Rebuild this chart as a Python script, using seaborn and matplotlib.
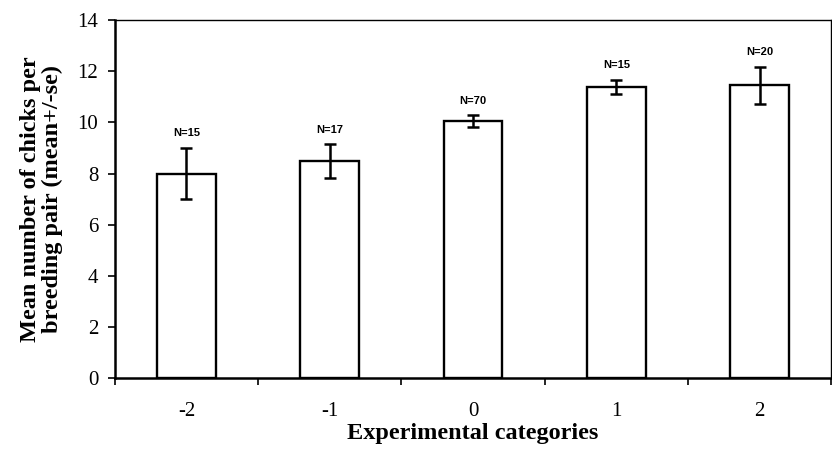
import numpy as np
import pandas as pd
import seaborn as sns
import matplotlib.pyplot as plt
from matplotlib.ticker import FixedLocator

categories = ["-2", "-1", "0", "1", "2"]
means = [8.0, 8.48, 10.05, 11.38, 11.45]
se = [1.0, 0.66, 0.23, 0.28, 0.72]
sample_sizes = [15, 17, 70, 15, 20]


def draw_chart(df: pd.DataFrame):
    """Bar chart of mean chicks per pair with +/- se error bars."""
    fig = plt.figure(figsize=(8.32, 4.49), dpi=100)
    ax = fig.add_axes([0.138, 0.158, 0.861, 0.797])

    sns.barplot(
        data=df, x="category", y="mean", order=categories,
        color="white", edgecolor="black", linewidth=1.7,
        width=0.41, errorbar=None, ax=ax
    )
    ax.errorbar(
        np.arange(len(df)), df["mean"], yerr=df["se"],
        fmt="none", ecolor="black", elinewidth=1.8,
        capsize=4.5, capthick=1.8
    )

    for i, row in df.iterrows():
        ax.annotate(
            f"N={row['n']}", (i, row["mean"] + row["se"]),
            xytext=(0, 7), textcoords="offset points",
            ha="center", va="bottom", fontsize=8, fontweight="bold",
            family="Liberation Sans"
        )

    ax.set_xlim(-0.5, len(categories) - 0.5)
    ax.set_ylim(0, 14)
    ax.set_yticks(range(0, 15, 2))
    ax.xaxis.set_minor_locator(FixedLocator(np.arange(-0.5, len(categories), 1)))
    ax.tick_params(axis="x", which="major", length=0, pad=17)
    ax.tick_params(axis="x", which="minor", length=5, width=1.2, direction="out")
    ax.tick_params(axis="y", length=5, width=1.2, direction="out", pad=7)
    for lbl in ax.get_xticklabels() + ax.get_yticklabels():
        lbl.set_family("Liberation Serif")
        lbl.set_fontsize(15)

    for side in ["left", "bottom"]:
        ax.spines[side].set_linewidth(1.8)
    for side in ["top", "right"]:
        ax.spines[side].set_linewidth(1.0)

    ax.set_xlabel("Experimental categories", family="Liberation Serif",
                  fontsize=17.5, fontweight="bold", labelpad=2)
    ax.set_ylabel("Mean number of chicks per\nbreeding pair (mean+/-se)",
                  family="Liberation Serif", fontsize=17.5,
                  fontweight="bold", labelpad=10, linespacing=1.05)

    fig.savefig("out.png", dpi=100)


def main():
    sns.set_style("ticks", rc={
        "axes.edgecolor": "black",
        "text.color": "black",
        "axes.labelcolor": "black",
        "xtick.color": "black",
        "ytick.color": "black",
    })
    df = pd.DataFrame({
        "category": categories,
        "mean": means,
        "se": se,
        "n": sample_sizes,
    })
    draw_chart(df)


if __name__ == "__main__":
    main()
